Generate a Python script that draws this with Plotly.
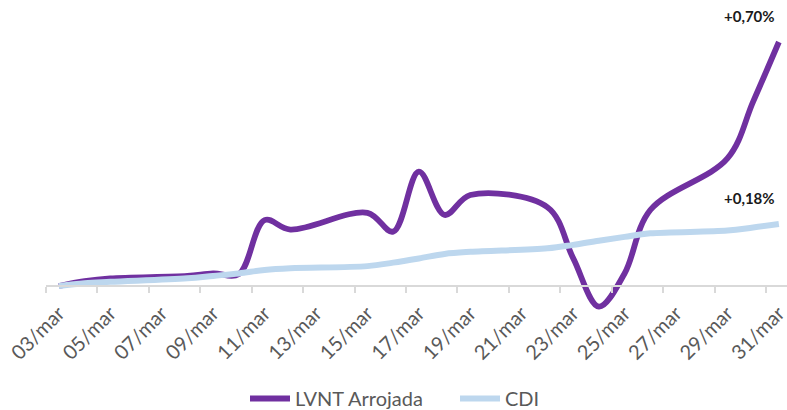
import plotly.graph_objects as go
import pandas as pd

# Business days of March (daily accumulated return, %)
dates = ["2021-03-03", "2021-03-04", "2021-03-05", "2021-03-08", "2021-03-09",
         "2021-03-10", "2021-03-11", "2021-03-12", "2021-03-15", "2021-03-16",
         "2021-03-17", "2021-03-18", "2021-03-19", "2021-03-22", "2021-03-23",
         "2021-03-24", "2021-03-25", "2021-03-26", "2021-03-29", "2021-03-30",
         "2021-03-31"]
lvnt = [0.0, 0.014, 0.022, 0.029, 0.036, 0.034, 0.189, 0.162, 0.210, 0.156,
        0.328, 0.204, 0.261, 0.226, 0.080, -0.059, 0.036, 0.218, 0.366, 0.529,
        0.700]
cdi = [0.0, 0.008, 0.012, 0.022, 0.029, 0.036, 0.046, 0.051, 0.057, 0.067,
       0.079, 0.092, 0.098, 0.108, 0.118, 0.130, 0.141, 0.151, 0.159, 0.168,
       0.178]
tick_dates = ["2021-03-03", "2021-03-05", "2021-03-07", "2021-03-09", "2021-03-11",
              "2021-03-13", "2021-03-15", "2021-03-17", "2021-03-19", "2021-03-21",
              "2021-03-23", "2021-03-25", "2021-03-27", "2021-03-29", "2021-03-31"]
tick_labels = ["03/mar", "05/mar", "07/mar", "09/mar", "11/mar", "13/mar", "15/mar",
               "17/mar", "19/mar", "21/mar", "23/mar", "25/mar", "27/mar", "29/mar",
               "31/mar"]

PURPLE = "#7030A0"
BLUE = "#BDD7EE"
GRAY_AX = "#D9D9D9"
TXT = "#595959"
FONT = "Lato, 'Liberation Sans', sans-serif"

# tick marks sit between categories (half a day before each labelled day)
boundaries = [(pd.Timestamp(d) - pd.Timedelta(hours=12)).strftime("%Y-%m-%d %H:%M")
              for d in tick_dates]

fig = go.Figure()
fig.add_trace(go.Scatter(x=dates, y=lvnt, name="LVNT Arrojada", mode="lines",
                         line=dict(color=PURPLE, width=5.8, shape="spline", smoothing=1)))
fig.add_trace(go.Scatter(x=dates, y=cdi, name="CDI", mode="lines",
                         line=dict(color=BLUE, width=6, shape="spline", smoothing=1)))

def fmt(v):
    return "+" + f"{v:.2f}".replace(".", ",") + "%"

for series in (lvnt, cdi):
    fig.add_annotation(x=dates[-1], y=series[-1], text="<b>" + fmt(series[-1]) + "</b>",
                       showarrow=False, xanchor="right", yanchor="bottom",
                       xshift=-2, yshift=15,
                       font=dict(family=FONT, size=15, color="#1A1A1A"))

y_lo, y_hi = -0.0832, 0.7344
fig.update_layout(
    width=787, height=410,
    margin=dict(l=46, r=0, t=30, b=95, autoexpand=False),
    paper_bgcolor="white", plot_bgcolor="white",
    font=dict(family=FONT, color=TXT),
    showlegend=True,
    legend=dict(orientation="h", xref="container", yref="container",
                x=245 / 787, xanchor="left", y=0.028, yanchor="middle",
                font=dict(family=FONT, size=20, color=TXT),
                itemwidth=40,
                entrywidth=155, entrywidthmode="pixels"),
    xaxis=dict(type="date", range=["2021-03-02 12:00", "2021-03-31 07:36"],
               tickmode="array", tickvals=tick_dates, ticktext=tick_labels,
               tickangle=-45, ticks="", tickfont=dict(family=FONT, size=20, color=TXT),
               ticklabeloverflow="allow",
               showgrid=False, zeroline=False, automargin=False,
               showline=True, linecolor=GRAY_AX, linewidth=1.6,
               anchor="free", position=29 / 285,
               minor=dict(tickmode="array", tickvals=boundaries, ticks="outside",
                          ticklen=6, tickcolor=GRAY_AX, tickwidth=1.6, showgrid=False),
               ticklabelstandoff=7),
    yaxis=dict(range=[y_lo, y_hi], visible=False, showgrid=False, zeroline=False,
               automargin=False),
)

fig.write_html("out.html", config={"displayModeBar": False},
               post_script="document.body.style.margin='0';")
